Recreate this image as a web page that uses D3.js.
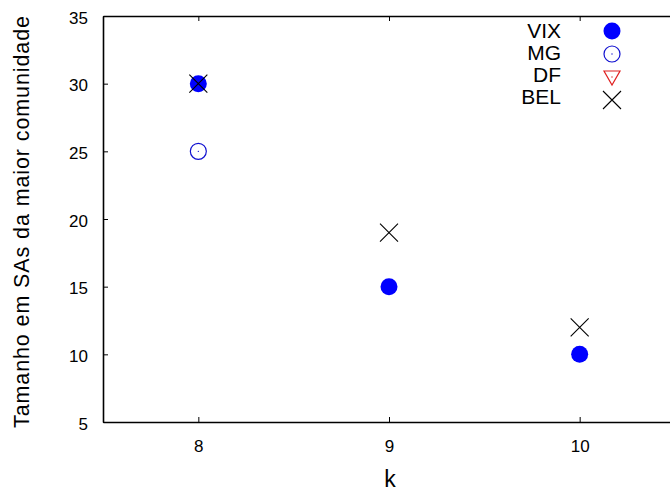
<!DOCTYPE html>
<html>
<head>
<meta charset="utf-8">
<script src="https://cdn.jsdelivr.net/npm/d3@7"></script>
<style>
  body { margin: 0; background: #fff; }
  svg text { font-family: "Liberation Sans", Arial, sans-serif; }
</style>
</head>
<body>
<div id="container"></div>
<script>
/* DATA */
const xTicks = [8, 9, 10];
const yTicks = [5, 10, 15, 20, 25, 30, 35];
const series = ["VIX", "MG", "DF", "BEL"];
const vix = [{ k: 8, v: 30 }, { k: 9, v: 15 }, { k: 10, v: 10 }];
const mg = [{ k: 8, v: 25 }];
const df = [];
const bel = [{ k: 8, v: 30 }, { k: 9, v: 19 }, { k: 10, v: 12 }];

/* CONSTANTS */
const width = 670,
  height = 493,
  margin = { top: 16, bottom: 71, left: 103, right: -5 };

const svg = d3.select("#container")
  .append("svg")
  .attr("width", width)
  .attr("height", height);

const xScale = d3.scaleLinear()
  .domain([7.5, 10.5])
  .range([margin.left, width - margin.right]);

const yScale = d3.scaleLinear()
  .domain([5, 35])
  .range([height - margin.bottom, margin.top]);

// gnuplot style: ticks point inward, mirrored on top
const xAxis = d3.axisBottom(xScale).tickValues(xTicks).tickFormat(d3.format("d"))
  .tickSizeInner(-5).tickSizeOuter(0).tickPadding(18);
const xAxisTop = d3.axisTop(xScale).tickValues(xTicks).tickSizeInner(-5).tickSizeOuter(0).tickFormat("");
const yAxis = d3.axisLeft(yScale).tickValues(yTicks).tickSizeInner(-5).tickSizeOuter(0).tickPadding(15);

function styleAxis(g) {
  g.attr("font-family", null);
  g.select(".domain").attr("stroke", "#000").attr("stroke-width", 1.6);
  g.selectAll(".tick line").attr("stroke", "#000");
  g.selectAll(".tick text").attr("font-size", 17).attr("fill", "#000");
}

svg.append("g")
  .attr("transform", `translate(0,${height - margin.bottom})`)
  .call(xAxis)
  .call(styleAxis);

svg.append("g")
  .attr("transform", `translate(0,${margin.top})`)
  .call(xAxisTop)
  .call(styleAxis);

svg.append("g")
  .attr("transform", `translate(${margin.left},0)`)
  .call(yAxis)
  .call(styleAxis)
  .selectAll(".tick text").attr("dy", "0.42em");

// axis titles
svg.append("text")
  .attr("x", xScale(9) + 1)
  .attr("y", 487)
  .attr("text-anchor", "middle")
  .attr("font-size", 23)
  .text("k");

svg.append("text")
  .attr("transform", `translate(29,222) rotate(-90)`)
  .attr("text-anchor", "middle")
  .attr("font-size", 21.5)
  .attr("textLength", 412)
  .attr("lengthAdjust", "spacing")
  .text("Tamanho em SAs da maior comunidade");

/* MARKERS */
function drawMarker(g, name) {
  if (name === "VIX") {
    g.append("circle").attr("r", 8.5).attr("fill", "#0000ff");
  } else if (name === "MG") {
    g.append("circle").attr("r", 8).attr("fill", "none").attr("stroke", "#1010d0").attr("stroke-width", 1.2);
    g.append("circle").attr("r", 0.7).attr("fill", "#1010d0");
  } else if (name === "DF") {
    g.append("path").attr("d", "M-8,-6L8,-6L0,8Z").attr("fill", "none").attr("stroke", "#e02020").attr("stroke-width", 1.2);
    g.append("circle").attr("r", 0.7).attr("fill", "#e02020");
  } else {
    g.append("path").attr("d", "M-9,-9L9,9M-9,9L9,-9").attr("stroke", "#000").attr("stroke-width", 1.1);
  }
}

const seriesData = { VIX: vix, MG: mg, DF: df, BEL: bel };

series.forEach(name => {
  svg.append("g")
    .selectAll("g")
    .data(seriesData[name])
    .join("g")
    .attr("transform", d => `translate(${xScale(d.k)},${yScale(d.v)})`)
    .each(function () { drawMarker(d3.select(this), name); });
});

/* LEGEND */
const legend = svg.append("g")
  .selectAll("g")
  .data(series)
  .join("g");

legend.append("text")
  .attr("x", 561)
  .attr("y", (d, i) => 30 + i * 22)
  .attr("dy", "0.36em")
  .attr("text-anchor", "end")
  .attr("font-size", 21)
  .text(d => d);

legend.append("g")
  .attr("transform", (d, i) => `translate(612,${31 + i * 23})`)
  .each(function (d) { drawMarker(d3.select(this), d); });
</script>
</body>
</html>
